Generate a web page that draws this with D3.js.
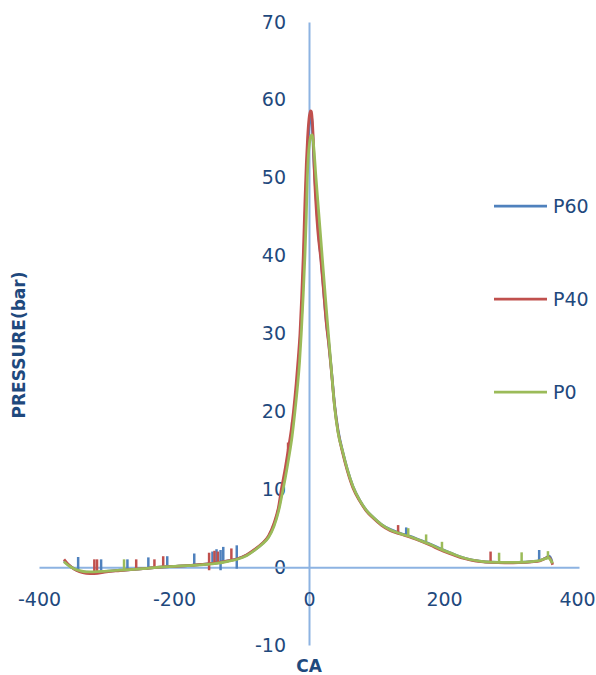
<!DOCTYPE html>
<html>
<head>
<meta charset="utf-8">
<script src="https://cdn.jsdelivr.net/npm/d3@7"></script>
<style>
  body { margin: 0; background: #fff; }
  svg text { font-family: "DejaVu Sans", sans-serif; fill: #1f497d; }
</style>
</head>
<body>
<svg id="chart"></svg>
<script>
// Tick values
const xTicks = [-400, -200, 0, 200, 400];
const yTicks = [-10, 0, 10, 20, 30, 40, 50, 60, 70];

// Series names and colours (Excel default palette)
const seriesNames = ['P60', 'P40', 'P0'];
const seriesColors = ['#4f81bd', '#c0504d', '#9bbb59'];

// Crank angle / pressure pairs
const p60 = [
  [-363, 0.8], [-356, 0.25], [-348, -0.2], [-340, -0.5], [-330, -0.65], [-318, -0.7], [-300, -0.55],
  [-280, -0.4], [-260, -0.3], [-240, -0.15], [-220, 0.0], [-200, 0.1], [-180, 0.2], [-160, 0.35],
  [-140, 0.5], [-120, 0.8], [-105, 1.1], [-92, 1.55], [-80, 2.25], [-70, 2.95], [-60, 3.9],
  [-52, 5.4], [-45, 7.5], [-40, 9.7], [-35, 12], [-30, 14.6], [-25, 17.6], [-22, 20], [-18, 23.4],
  [-15, 26.6], [-12.5, 30], [-10, 34], [-7.5, 40], [-5.5, 45.5], [-3.5, 50.5], [-1.5, 54.5],
  [0.5, 57], [2.5, 58], [4, 57.6], [5.5, 55.5], [7, 52.5], [9, 49.5], [12, 45.5], [15, 42],
  [18.5, 39], [22, 35.2], [26, 31.2], [29, 29], [33, 25.5], [38, 20.8], [43, 17.6], [50, 14.8],
  [57, 12.5], [65, 10.4], [75, 8.6], [85, 7.3], [95, 6.4], [107, 5.5], [120, 4.85], [135, 4.35],
  [150, 3.95], [165, 3.45], [180, 2.95], [195, 2.35], [210, 1.8], [225, 1.3], [240, 0.95],
  [255, 0.75], [270, 0.65], [290, 0.6], [310, 0.62], [330, 0.72], [342, 0.85], [350, 1.15],
  [356, 1.4], [360, 0.7]
];

const p40 = [
  [-363, 1.0], [-356, 0.3], [-348, -0.25], [-340, -0.6], [-330, -0.8], [-318, -0.85], [-300, -0.6],
  [-280, -0.45], [-260, -0.3], [-240, -0.15], [-220, 0.0], [-200, 0.1], [-180, 0.2], [-160, 0.35],
  [-140, 0.5], [-120, 0.8], [-105, 1.1], [-92, 1.6], [-80, 2.3], [-70, 3.0], [-60, 4.0],
  [-52, 5.6], [-45, 7.8], [-41, 10], [-36, 12.3], [-31, 15], [-26, 17.8], [-23, 20], [-19, 23.6],
  [-16, 26.8], [-13.4, 30], [-11, 34.5], [-8.5, 40], [-6, 47], [-4, 51.8], [-2, 55.3],
  [0, 57.6], [2, 58.6], [3.5, 58.5], [5, 57.2], [6.5, 54.6], [8, 50.5], [10, 47], [13, 43.2],
  [17.4, 39.6], [22, 35], [26, 31], [29, 28.8], [33, 25.3], [38, 20.6], [43, 17.4], [50, 14.6],
  [57, 12.3], [65, 10.2], [75, 8.5], [85, 7.2], [95, 6.3], [107, 5.4], [120, 4.7], [135, 4.25],
  [150, 3.85], [165, 3.35], [180, 2.8], [195, 2.2], [210, 1.7], [225, 1.2], [240, 0.9],
  [255, 0.7], [270, 0.6], [290, 0.55], [310, 0.58], [330, 0.68], [342, 0.8], [350, 1.1],
  [355, 1.3], [358, 1.0], [361, 0.3]
];

const p0 = [
  [-363, 0.7], [-356, 0.2], [-348, -0.2], [-340, -0.45], [-330, -0.6], [-318, -0.6], [-300, -0.5],
  [-280, -0.4], [-260, -0.3], [-240, -0.15], [-220, 0.0], [-200, 0.1], [-180, 0.2], [-160, 0.3],
  [-140, 0.45], [-120, 0.75], [-105, 1.05], [-92, 1.5], [-80, 2.2], [-70, 2.9], [-60, 3.8],
  [-52, 5.2], [-45, 7.2], [-40, 9.3], [-35, 11.5], [-30, 14], [-25, 16.8], [-21, 19.8], [-17, 23.2],
  [-14, 26.3], [-11.4, 30], [-8.5, 35], [-6, 40], [-4, 45], [-2.5, 50], [-1, 52.8],
  [1, 54.6], [3, 55.4], [5, 55.5], [7, 54], [10.4, 50], [14, 46], [19, 40.5], [24, 35],
  [28.7, 30], [33, 25.5], [38, 20.5], [43, 17.3], [50, 14.8], [57, 12.5], [65, 10.4], [75, 8.6],
  [85, 7.3], [95, 6.4], [107, 5.5], [120, 4.8], [135, 4.3], [150, 3.9], [165, 3.4], [180, 2.9],
  [195, 2.3], [210, 1.8], [225, 1.3], [240, 0.95], [255, 0.75], [270, 0.65], [290, 0.6],
  [310, 0.62], [330, 0.72], [342, 0.85], [350, 1.1], [355, 1.2], [358, 0.9], [361, 0.5]
];

// Short noise spikes: [angle, low, high]
const p60Spikes = [
  [-342, -0.3, 1.3], [-308, -0.6, 1.0], [-269, -0.35, 1.0], [-238, -0.15, 1.25], [-210, 0.0, 1.4],
  [-170, 0.2, 1.75], [-143, 0.4, 2.0], [-137, 0.45, 2.3], [-131, -0.4, 2.2], [-127, 0.6, 2.6],
  [-107, -0.2, 2.8], [-25, 17.4, 18.6], [144, 4.2, 5.1], [341, 0.85, 2.2]
];
const p40Spikes = [
  [-318, -0.85, 1.0], [-314, -0.85, 1.0], [-256, -0.3, 1.0], [-229, -0.1, 1.0], [-216, 0.0, 1.4],
  [-148, -0.4, 1.85], [-140, 0.45, 2.1], [-135, 0.5, 2.0], [-115, 0.8, 2.4], [-31, 15, 16],
  [132, 4.4, 5.4], [269, 0.6, 2.0]
];
const p0Spikes = [
  [-274, -0.4, 1.0], [147, 4.0, 5.0], [173.5, 3.3, 4.2], [197, 2.2, 3.25],
  [281.6, 0.62, 1.85], [315, 0.65, 1.9], [354, 1.15, 2.05]
];

const seriesData = [p60, p40, p0];
const seriesSpikes = [p60Spikes, p40Spikes, p0Spikes];

const width = 596;
const height = 675;

const svg = d3.select('#chart')
  .attr('width', width)
  .attr('height', height);

// Scales
const x = d3.scaleLinear().domain([-400, 400]).range([39, 579]);
const y = d3.scaleLinear().domain([-10, 70]).range([645, 22]);

const axisColor = '#8db3e2';
const plainFormat = d => String(d); // hyphen, not the unicode minus

// Y axis crosses at x = 0
const yAxis = svg.append('g')
  .attr('transform', `translate(${x(0)},0)`)
  .call(d3.axisLeft(y).tickValues(yTicks).tickFormat(plainFormat).tickSize(0).tickPadding(23));

// X axis crosses at y = 0
const xAxis = svg.append('g')
  .attr('transform', `translate(0,${y(0)})`)
  .call(d3.axisBottom(x).tickValues(xTicks).tickFormat(plainFormat).tickSize(0).tickPadding(25));

[xAxis, yAxis].forEach(g => {
  g.select('.domain').attr('stroke', axisColor).attr('stroke-width', 2);
  g.selectAll('text')
    .attr('font-family', null)
    .attr('fill', null)
    .style('font-size', '19px');
});

// last x label sits against the right edge, nudge it in a little
xAxis.selectAll('.tick')
  .filter(d => d === 400)
  .select('text')
  .attr('dx', -2);

// Lines
const line = d3.line()
  .x(d => x(d[0]))
  .y(d => y(d[1]))
  .curve(d3.curveMonotoneX);

seriesData.forEach((data, i) => {
  svg.append('path')
    .datum(data)
    .attr('fill', 'none')
    .attr('stroke', seriesColors[i])
    .attr('stroke-width', 2.75)
    .attr('stroke-linejoin', 'round')
    .attr('d', line);

  svg.append('g')
    .selectAll('line')
    .data(seriesSpikes[i])
    .join('line')
    .attr('x1', d => x(d[0]))
    .attr('x2', d => x(d[0]))
    .attr('y1', d => y(d[1]))
    .attr('y2', d => y(d[2]))
    .attr('stroke', seriesColors[i])
    .attr('stroke-width', 2.5);
});

// Legend
const legend = svg.append('g').attr('transform', 'translate(494,206)');
seriesNames.forEach((name, i) => {
  const row = legend.append('g').attr('transform', `translate(0,${i * 93})`);
  row.append('line')
    .attr('x1', 0).attr('x2', 53)
    .attr('stroke', seriesColors[i])
    .attr('stroke-width', 2.75);
  row.append('text')
    .attr('x', 59)
    .attr('dy', '0.35em')
    .style('font-size', '19px')
    .text(name);
});

// Axis titles
svg.append('text')
  .attr('transform', 'translate(19,345) rotate(-90)')
  .attr('text-anchor', 'middle')
  .attr('dy', '0.35em')
  .style('font-size', '17px')
  .style('font-weight', 'bold')
  .text('PRESSURE(bar)');

svg.append('text')
  .attr('x', x(0))
  .attr('y', 666)
  .attr('text-anchor', 'middle')
  .attr('dy', '0.35em')
  .style('font-size', '17px')
  .style('font-weight', 'bold')
  .text('CA');
</script>
</body>
</html>
